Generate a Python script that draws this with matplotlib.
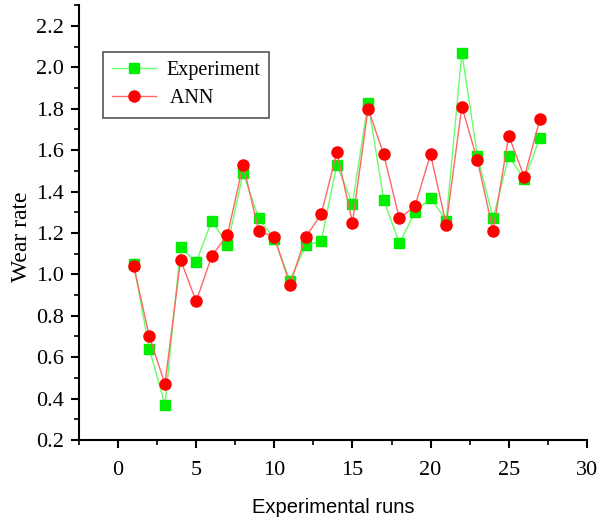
import matplotlib
matplotlib.use('Agg')
import matplotlib.pyplot as plt
from matplotlib.ticker import MultipleLocator

runs = list(range(1, 28))
experiment = [1.05, 0.64, 0.37, 1.13, 1.06, 1.26, 1.14, 1.49, 1.27, 1.17,
              0.97, 1.14, 1.16, 1.53, 1.34, 1.83, 1.36, 1.15, 1.30, 1.37,
              1.26, 2.07, 1.57, 1.27, 1.57, 1.46, 1.66]
ann = [1.04, 0.70, 0.47, 1.07, 0.87, 1.09, 1.19, 1.53, 1.21, 1.18,
       0.95, 1.18, 1.29, 1.59, 1.25, 1.80, 1.58, 1.27, 1.33, 1.58,
       1.24, 1.81, 1.55, 1.21, 1.67, 1.47, 1.75]

serif = 'Liberation Serif'
sans = 'Liberation Sans'

fig = plt.figure(figsize=(6.05, 5.19), dpi=100)
ax = fig.add_axes([0.1306, 0.1522, 0.8394, 0.8378])

ax.plot(runs, experiment, color='#66ff66', lw=1, marker='s', ms=7,
        mfc='#00ee00', mec='#00ee00', label='Experiment')
ax.plot(runs, ann, color='#ff6666', lw=1, marker='o', ms=8,
        mfc='#ff0000', mec='#ff0000', label=' ANN')

ax.set_xlim(-2.5, 30)
ax.set_ylim(0.2, 2.3)
ax.xaxis.set_major_locator(MultipleLocator(5))
ax.xaxis.set_minor_locator(MultipleLocator(2.5))
ax.yaxis.set_major_locator(MultipleLocator(0.2))
ax.yaxis.set_minor_locator(MultipleLocator(0.1))
ax.spines['top'].set_visible(False)
ax.spines['right'].set_visible(False)
for s in ['left', 'bottom']:
    ax.spines[s].set_linewidth(1.5)
ax.tick_params(which='major', direction='out', length=6, width=1.5)
ax.tick_params(axis='x', which='major', pad=9)
ax.tick_params(axis='y', which='major', pad=5)
ax.tick_params(which='minor', direction='out', length=3.5, width=1.2)
for lab in ax.get_xticklabels() + ax.get_yticklabels():
    lab.set_fontfamily(serif)
    lab.set_fontsize(16)

ax.set_xlabel('Experimental runs', fontfamily=sans, fontsize=14.5, labelpad=13)
ax.set_ylabel('Wear rate', fontfamily=serif, fontsize=17)
ax.yaxis.set_label_coords(-0.092, 0.467)

leg = ax.legend(loc='upper left', bbox_to_anchor=(0.047, 0.892),
                borderaxespad=0,
                prop={'family': serif, 'size': 14.5}, fancybox=False,
                edgecolor='#555555', framealpha=1, handlelength=2.2,
                borderpad=0.45, labelspacing=0.45, handletextpad=0.5)
leg.get_frame().set_linewidth(1.2)

fig.savefig('out.png', dpi=100)
